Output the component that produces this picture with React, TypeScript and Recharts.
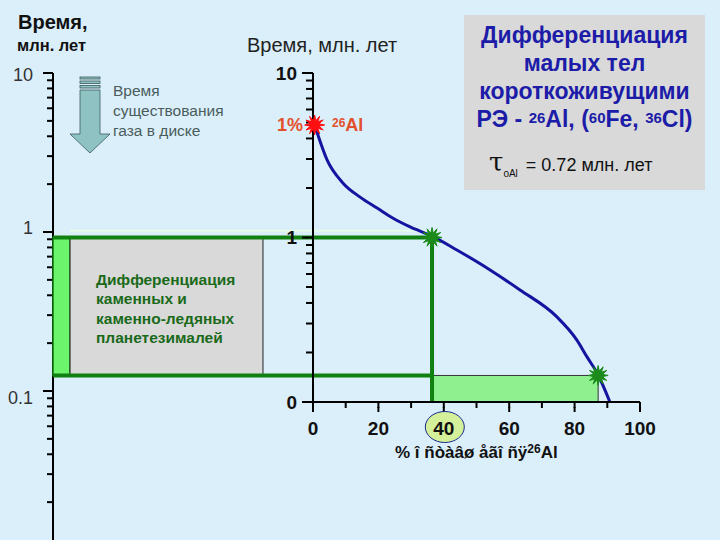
import React from 'react';
import { ComposedChart, Line, Scatter, XAxis, YAxis, ReferenceLine, ReferenceArea } from 'recharts';

// ---- data ----
const percentLeft = [0.5, 1.2, 4.3, 9.2, 14.4, 19.6, 24.5, 29.7, 36.4, 44.0, 53.2, 63.3, 74.6, 80.7, 83.8, 87.2, 90.8];
const timeMyr = [4.83, 4.38, 2.96, 2.14, 1.76, 1.51, 1.31, 1.16, 1.02, 0.84, 0.653, 0.48, 0.329, 0.238, 0.188, 0.146, 0.1];

const starPercent = [0.5, 36.4, 87.2];
const starTime = [4.83, 1.0, 0.145];
const starKind = ['red', 'green', 'green'];

const xTicks = [0, 10, 20, 30, 40, 50, 60, 70, 80, 90, 100];
const xLabelTicks = [0, 20, 40, 60, 80, 100];
const circledTick = 40;

const rightYTicks = [10, 9, 8, 7, 6, 5, 4, 3, 2, 1, 0.9, 0.8, 0.7, 0.6, 0.5, 0.4, 0.3, 0.2, 0.1];
const rightYLabels: Record<string, string> = { '10': '10', '1': '1', '0.1': '0' };

const leftYTicks = [10, 9, 8, 7, 6, 5, 4, 3, 2, 1, 0.9, 0.8, 0.7, 0.6, 0.5, 0.4, 0.3, 0.2, 0.1, 0.09, 0.08, 0.07, 0.06, 0.05, 0.04, 0.03, 0.02];
const leftYLabels: Record<string, string> = { '10': '10', '1': '1', '0.1': '0.1' };
const leftYLabelShift: Record<string, number> = { '10': 2, '1': -4, '0.1': 7 };

// time window of differentiation (Myr) and left-panel extents (in % axis units)
const windowTop = 1.0;
const windowBottom = 0.145;
const panelLeftX = -79.5;
const greyStartX = -74.3;
const greyEndX = -15.3;
const highlightT = 1.1;

const curve = percentLeft.map((x, i) => ({ x, t: timeMyr[i] }));
const stars = starPercent.map((x, i) => ({ x, t: starTime[i], kind: starKind[i] }));
const leftAxisRows = leftYTicks.map((t) => ({ t }));

const FONT = '"Liberation Sans", Arial, sans-serif';
const GREEN = '#108010';

const StarShape = (props: any) => {
  const { cx, cy, payload } = props;
  if (cx == null || cy == null) return null;
  const color = payload.kind === 'red' ? '#ff1010' : '#1a8a1a';
  const pts: string[] = [];
  const n = 24;
  for (let i = 0; i < n; i++) {
    const r = i % 2 === 0 ? 10 : 4.5;
    const a = (Math.PI * 2 * i) / n;
    pts.push(`${cx + r * Math.cos(a)},${cy + r * Math.sin(a)}`);
  }
  return <polygon points={pts.join(' ')} fill={color} stroke={color} strokeWidth={1} />;
};

// built-in tick line is 7px; majors get extended to 11px
const RightYTick = (props: any) => {
  const { x, y, payload } = props;
  const key = String(payload.value);
  const label = rightYLabels[key];
  return (
    <g>
      {label && <path d={`M${x - 4},${y}H${x + 1}`} stroke="#000" strokeWidth={2} fill="none" />}
      {label && (
        <text x={x - 9} y={y} textAnchor="end" dominantBaseline="central" fontFamily={FONT} fontWeight="bold" fontSize={19} fill="#111">
          {label}
        </text>
      )}
    </g>
  );
};

// built-in tick line is 6px; majors get extended to 10px
const LeftYTick = (props: any) => {
  const { x, y, payload } = props;
  const key = String(payload.value);
  const label = leftYLabels[key];
  return (
    <g>
      {label && <path d={`M${x - 4},${y}H${x + 1}`} stroke="#000" strokeWidth={2} fill="none" />}
      {label && (
        <text x={x - 14} y={y + (leftYLabelShift[key] || 0)} textAnchor="end" dominantBaseline="central" fontFamily={FONT} fontSize={18} fill="#333">
          {label}
        </text>
      )}
    </g>
  );
};

// built-in tick line is 6px; labelled ticks get extended to 10px
const XTick = (props: any) => {
  const { x, y, payload } = props;
  const v = payload.value;
  const labelled = xLabelTicks.includes(v);
  return (
    <g>
      {labelled && <path d={`M${x},${y - 1}V${y + 4}`} stroke="#000" strokeWidth={2} fill="none" />}
      {v === circledTick && <ellipse cx={x + 1} cy={y + 19} rx={19.5} ry={15.5} fill="#d4f09a" stroke="#1a2a90" strokeWidth={1} />}
      {labelled && (
        <text x={x} y={y + 20} textAnchor="middle" dominantBaseline="central" fontFamily={FONT} fontWeight="bold" fontSize={19} fill="#111">
          {v}
        </text>
      )}
    </g>
  );
};

const abs = (left: number, top: number, extra: React.CSSProperties = {}): React.CSSProperties => ({
  position: 'absolute',
  left,
  top,
  whiteSpace: 'nowrap',
  fontFamily: FONT,
  ...extra,
});

const axisStroke = { stroke: '#000', strokeWidth: 2 };

export default function App() {
  return (
    <div style={{ position: 'absolute', left: 0, top: 0, width: 720, height: 540, overflow: 'hidden', background: '#dbeffa', fontFamily: FONT }}>
      {/* left time axis */}
      <div style={{ position: 'absolute', left: 0, top: 0 }}>
        <ComposedChart width={720} height={550} data={leftAxisRows} margin={{ top: 73, right: 80, bottom: 0, left: 13 }}>
          <XAxis type="number" dataKey="t" hide domain={[0, 1]} />
          <YAxis
            type="number"
            dataKey="t"
            scale="log"
            domain={[0.01, 10]}
            allowDataOverflow
            ticks={leftYTicks}
            interval={0}
            width={40}
            tickSize={6}
            tickMargin={0}
            tickLine={axisStroke}
            axisLine={axisStroke}
            tick={<LeftYTick />}
          />
        </ComposedChart>
      </div>

      {/* main chart */}
      <div style={{ position: 'absolute', left: 0, top: 0 }}>
        <ComposedChart width={720} height={540} data={curve} margin={{ top: 73, right: 80, bottom: 108, left: 273 }}>
          <XAxis
            type="number"
            dataKey="x"
            domain={[0, 100]}
            ticks={xTicks}
            interval={0}
            height={30}
            tickSize={6}
            tickMargin={0}
            tickLine={axisStroke}
            axisLine={axisStroke}
            tick={<XTick />}
          />
          <YAxis
            type="number"
            dataKey="t"
            scale="log"
            domain={[0.1, 10]}
            allowDataOverflow
            ticks={rightYTicks}
            interval={0}
            width={40}
            tickSize={7}
            tickMargin={0}
            tickLine={axisStroke}
            axisLine={axisStroke}
            tick={<RightYTick />}
          />
          <ReferenceArea x1={panelLeftX} x2={greyStartX} y1={windowBottom} y2={windowTop} ifOverflow="visible" fill="#6cf56c" fillOpacity={1} stroke={GREEN} strokeWidth={1.5} />
          <ReferenceArea x1={greyStartX} x2={greyEndX} y1={windowBottom} y2={windowTop} ifOverflow="visible" fill="#d9d9d9" fillOpacity={1} stroke="#222" strokeWidth={1} />
          <ReferenceArea x1={starPercent[1]} x2={starPercent[2]} y1={0.1} y2={windowBottom} ifOverflow="visible" fill="#8ef08e" fillOpacity={1} stroke="#333" strokeWidth={1} />
          <ReferenceLine segment={[{ x: greyStartX, y: highlightT }, { x: starPercent[1], y: highlightT }]} ifOverflow="visible" stroke="#e6fbe9" strokeWidth={2} />
          <ReferenceLine segment={[{ x: panelLeftX, y: windowTop }, { x: starPercent[1], y: windowTop }]} ifOverflow="visible" stroke={GREEN} strokeWidth={4} />
          <ReferenceLine segment={[{ x: starPercent[1], y: windowTop }, { x: starPercent[1], y: 0.1 }]} ifOverflow="visible" stroke={GREEN} strokeWidth={4} />
          <ReferenceLine segment={[{ x: panelLeftX, y: windowBottom }, { x: starPercent[1], y: windowBottom }]} ifOverflow="visible" stroke={GREEN} strokeWidth={4} />
          <Line type="monotone" dataKey="t" stroke="#1414a0" strokeWidth={3} dot={false} isAnimationActive={false} />
          <Scatter data={stars} dataKey="t" shape={<StarShape />} isAnimationActive={false} />
        </ComposedChart>
      </div>

      {/* arrow */}
      <svg width={720} height={540} style={{ position: 'absolute', left: 0, top: 0, pointerEvents: 'none' }}>
        <rect x={80} y={77} width={20} height={2} fill="#8fc3c3" stroke="#3a5a5a" strokeWidth={0.8} />
        <rect x={80} y={81} width={20} height={2.5} fill="#8fc3c3" stroke="#3a5a5a" strokeWidth={0.8} />
        <rect x={80} y={85.5} width={20} height={2.5} fill="#8fc3c3" stroke="#3a5a5a" strokeWidth={0.8} />
        <polygon points="80,90 100,90 100,134 110,134 90,153 70,134 80,134" fill="#8fc3c3" stroke="#3a5a5a" strokeWidth={0.8} />
      </svg>

      {/* texts */}
      <div style={abs(18, 9, { fontSize: 20, fontWeight: 'bold', color: '#111', lineHeight: '26px' })}>Время,</div>
      <div style={abs(17, 35, { fontSize: 16.5, fontWeight: 'bold', color: '#111', lineHeight: '20px' })}>млн. лет</div>
      <div style={abs(247, 33, { fontSize: 20, color: '#222', lineHeight: '24px' })}>Время, млн. лет</div>

      <div style={abs(113, 81, { fontSize: 15.5, color: '#4a5c5c', lineHeight: '20px' })}>
        Время<br />существования<br />газа в диске
      </div>

      <div style={abs(96, 270, { fontSize: 15.5, fontWeight: 'bold', color: '#1a6a1a', lineHeight: '19.3px' })}>
        Дифференциация<br />каменных и<br />каменно-ледяных<br />планетезималей
      </div>

      <div style={abs(277, 114, { fontSize: 18, fontWeight: 'bold', color: '#e3502c', lineHeight: '22px' })}>1%</div>
      <div style={abs(332, 114, { fontSize: 18, fontWeight: 'bold', color: '#e3502c', lineHeight: '22px' })}>
        <span style={{ fontSize: 12, verticalAlign: 'top', position: 'relative', top: -2 }}>26</span>Al
      </div>

      <div style={abs(395, 442, { fontSize: 17, fontWeight: 'bold', color: '#111', lineHeight: '22px' })}>
        % î ñòàâø åãî ñÿ<span style={{ fontSize: 12, verticalAlign: 'top', position: 'relative', top: -4 }}>26</span>Al
      </div>

      <div style={{ position: 'absolute', left: 464, top: 15, width: 241, height: 175, background: '#d9d9d9' }}>
        <div style={{ textAlign: 'center', paddingTop: 6, fontSize: 23, fontWeight: 'bold', color: '#1c1ca8', lineHeight: '28px', fontFamily: FONT }}>
          Дифференциация<br />малых тел<br />короткоживущими<br />
          РЭ - <span style={{ fontSize: 15, verticalAlign: 'top', position: 'relative', top: -1 }}>26</span>Al, (<span style={{ fontSize: 15, verticalAlign: 'top', position: 'relative', top: -1 }}>60</span>Fe, <span style={{ fontSize: 15, verticalAlign: 'top', position: 'relative', top: -1 }}>36</span>Cl)
        </div>
        <div style={{ position: 'absolute', left: 25, top: 133, whiteSpace: 'nowrap', fontFamily: FONT, color: '#111', lineHeight: '28px' }}>
          <span style={{ fontSize: 26, fontFamily: '"DejaVu Serif", serif' }}>τ</span>
          <span style={{ fontSize: 10, position: 'relative', top: 6 }}>oAl</span>
          <span style={{ fontSize: 18, marginLeft: 8 }}>= 0.72 млн. лет</span>
        </div>
      </div>
    </div>
  );
}
